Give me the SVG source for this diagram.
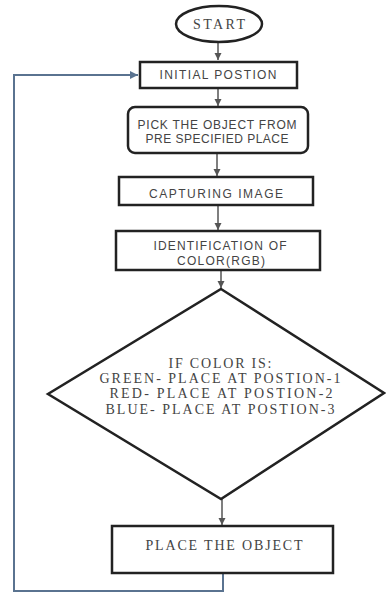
<svg xmlns="http://www.w3.org/2000/svg" width="386" height="594" viewBox="0 0 386 594">
<defs>
<style>
.box{fill:#fff;stroke:#222;stroke-width:2.5}
.sans{font-family:"Liberation Sans",Arial,sans-serif;font-size:12px;fill:#444;text-anchor:middle}
.serif{font-family:"Liberation Serif","Times New Roman",serif;font-size:14px;fill:#444;text-anchor:middle}
.conn{fill:none;stroke:#555;stroke-width:1.5}
.loop{fill:none;stroke:#5a7390;stroke-width:2}
</style>
<marker id="arr" viewBox="0 0 10 10" refX="10" refY="5" markerWidth="5" markerHeight="5" orient="auto">
<path d="M0,0 L10,5 L0,10 z" fill="#555"/>
</marker>
<marker id="arrb" viewBox="0 0 10 10" refX="10" refY="5" markerWidth="4" markerHeight="4" orient="auto">
<path d="M0,0 L10,5 L0,10 z" fill="#5a7390"/>
</marker>
</defs>
<rect width="386" height="594" fill="#fff"/>
<g id="connectors">
<line class="conn" x1="218" y1="42" x2="218" y2="60" marker-end="url(#arr)"/>
<line class="conn" x1="218" y1="88" x2="218" y2="106" marker-end="url(#arr)"/>
<line class="conn" x1="217" y1="154" x2="217" y2="176" marker-end="url(#arr)"/>
<line class="conn" x1="218" y1="205" x2="218" y2="230" marker-end="url(#arr)"/>
<line class="conn" x1="221" y1="270" x2="221" y2="288" marker-end="url(#arr)"/>
<line class="conn" x1="222" y1="499" x2="222" y2="525" marker-end="url(#arr)"/>
<polyline class="loop" points="223,573 223,591 14,591 14,75 138,75" marker-end="url(#arrb)"/>
</g>
<g id="start">
<ellipse cx="219" cy="24" rx="43" ry="18" class="box"/>
<text class="serif" x="219" y="29" textLength="52" lengthAdjust="spacing">START</text>
</g>
<g id="initial">
<rect class="box" x="140" y="62" width="157" height="26"/>
<text class="sans" x="218" y="79" textLength="117" lengthAdjust="spacing">INITIAL POSTION</text>
</g>
<g id="pick">
<rect class="box" x="128" y="107" width="180" height="46" rx="7"/>
<text class="sans" x="217" y="128.5" textLength="159" lengthAdjust="spacing">PICK THE OBJECT FROM</text>
<text class="sans" x="217" y="143" textLength="143" lengthAdjust="spacing">PRE SPECIFIED PLACE</text>
</g>
<g id="capturing">
<rect class="box" x="119" y="177" width="194" height="28"/>
<text class="sans" x="216" y="197.5" textLength="134" lengthAdjust="spacing">CAPTURING IMAGE</text>
</g>
<g id="identification">
<rect class="box" x="116" y="231" width="204" height="39"/>
<text class="sans" x="220" y="249.5" textLength="133" lengthAdjust="spacing">IDENTIFICATION OF</text>
<text class="sans" x="221" y="265" textLength="88" lengthAdjust="spacing">COLOR(RGB)</text>
</g>
<g id="decision">
<polygon class="box" points="221,289 384,393 221,499 48,394"/>
<text class="serif" x="220" y="368" textLength="103" lengthAdjust="spacing">IF COLOR IS:</text>
<text class="serif" x="220" y="383" textLength="241" lengthAdjust="spacing">GREEN- PLACE AT POSTION-1</text>
<text class="serif" x="221" y="398" textLength="223" lengthAdjust="spacing">RED- PLACE AT POSTION-2</text>
<text class="serif" x="220" y="413.5" textLength="229" lengthAdjust="spacing">BLUE- PLACE AT POSTION-3</text>
</g>
<g id="place">
<rect class="box" x="112" y="526" width="221" height="47"/>
<text class="serif" x="224" y="550" textLength="157" lengthAdjust="spacing">PLACE THE OBJECT</text>
</g>
</svg>
